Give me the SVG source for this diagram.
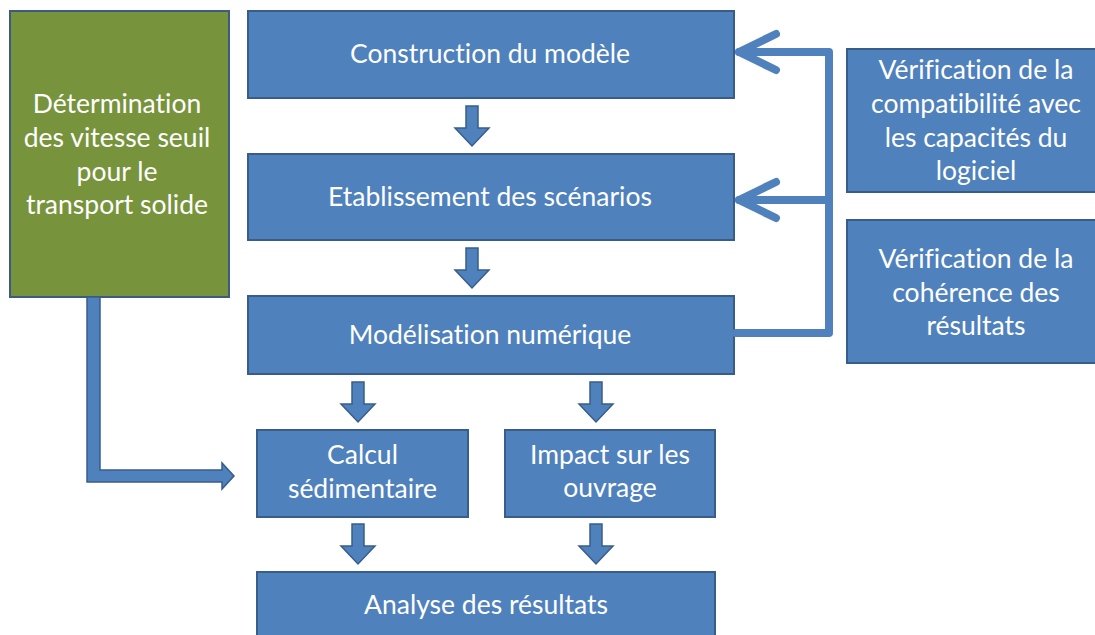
<svg xmlns="http://www.w3.org/2000/svg" xmlns:xlink="http://www.w3.org/1999/xlink" width="1095" height="635" viewBox="0 0 1095 635">
<style>
.box{fill:#4F81BD;stroke:#385D8A;stroke-width:2}
.green{fill:#77933C;stroke:#3E5A7E;stroke-width:2}
.t{font-family:Lato,"Liberation Sans",sans-serif;font-size:26.5px;fill:#FFFFFF;text-anchor:middle;font-variant-ligatures:none}
.fb{fill:none;stroke:#4F81BD;stroke-width:8;stroke-linecap:round;stroke-linejoin:round}
.blk{fill:#4F81BD;stroke:#385D8A;stroke-width:1.5}
</style>
<defs>
<path id="down" d="M-6,0 L6,0 L6,22 L17,22 L0,40 L-17,22 L-6,22 Z"/>
</defs>
<rect width="1095" height="635" fill="#FFFFFF"/>

<g id="n-determination">
<rect class="green" x="10" y="11" width="219" height="286"/>
<text class="t" x="117" y="113">Détermination</text>
<text class="t" x="117" y="147">des vitesse seuil</text>
<text class="t" x="117" y="181">pour le</text>
<text class="t" x="117" y="214">transport solide</text>
</g>

<g id="n-construction">
<rect class="box" x="248" y="11" width="486" height="87"/>
<text class="t" x="490" y="63">Construction du modèle</text>
</g>

<g id="n-etablissement">
<rect class="box" x="248" y="154" width="486" height="86"/>
<text class="t" x="490" y="206">Etablissement des scénarios</text>
</g>

<g id="n-modelisation">
<rect class="box" x="248" y="296" width="486" height="78"/>
<text class="t" x="490" y="344">Modélisation numérique</text>
</g>

<g id="n-calcul">
<rect class="box" x="257" y="430" width="211" height="87"/>
<text class="t" x="362.5" y="464">Calcul</text>
<text class="t" x="362.5" y="498">sédimentaire</text>
</g>

<g id="n-impact">
<rect class="box" x="505" y="430" width="210" height="87"/>
<text class="t" x="610" y="464">Impact sur les</text>
<text class="t" x="610" y="497">ouvrage</text>
</g>

<g id="n-analyse">
<rect class="box" x="257" y="572" width="458" height="70"/>
<text class="t" x="486" y="614">Analyse des résultats</text>
</g>

<g id="n-verif-compat">
<rect class="box" x="847" y="49" width="258" height="143"/>
<text class="t" x="976" y="79">Vérification de la</text>
<text class="t" x="976" y="113">compatibilité avec</text>
<text class="t" x="976" y="147">les capacités du</text>
<text class="t" x="976" y="180">logiciel</text>
</g>

<g id="n-verif-coherence">
<rect class="box" x="847" y="220" width="258" height="143"/>
<text class="t" x="976" y="268">Vérification de la</text>
<text class="t" x="976" y="302">cohérence des</text>
<text class="t" x="976" y="335">résultats</text>
</g>

<g id="connectors">
<use xlink:href="#down" class="blk" x="472" y="106"/>
<use xlink:href="#down" class="blk" x="472" y="248"/>
<use xlink:href="#down" class="blk" x="358" y="382"/>
<use xlink:href="#down" class="blk" x="596" y="382"/>
<use xlink:href="#down" class="blk" x="358" y="524"/>
<use xlink:href="#down" class="blk" x="596" y="524"/>
<path class="blk" d="M87,297 L100,297 L100,470 L222,470 L222,463 L234,476 L222,489 L222,482 L87,482 Z"/>
<path class="fb" d="M736,333 L829,333 L829,52 L739,52"/>
<path class="fb" d="M829,200 L739,200"/>
<path class="fb" stroke-width="9" d="M776,34 L739,52 L776,70"/>
<path class="fb" stroke-width="9" d="M776,182 L739,200 L776,218"/>
</g>
</svg>
